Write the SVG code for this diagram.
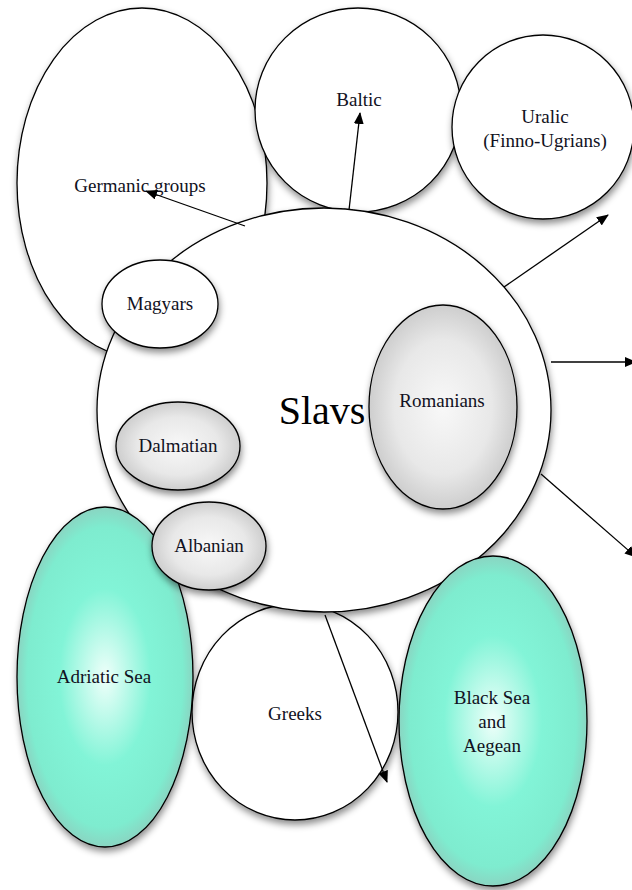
<svg xmlns="http://www.w3.org/2000/svg" width="632" height="890" viewBox="0 0 632 890">
<defs>
<filter id="sh" x="-20%" y="-20%" width="140%" height="150%">
<feDropShadow dx="1" dy="4" stdDeviation="3.5" flood-color="#000" flood-opacity="0.45"/>
</filter>
<radialGradient id="gray" cx="50%" cy="50%" r="55%">
<stop offset="0" stop-color="#f8f8f8"/>
<stop offset="0.6" stop-color="#e8e8e8"/>
<stop offset="1" stop-color="#c6c6c6"/>
</radialGradient>
<radialGradient id="teal" cx="50%" cy="50%" r="52%">
<stop offset="0" stop-color="#effffa"/>
<stop offset="0.5" stop-color="#82f4d7"/>
<stop offset="0.85" stop-color="#7eeccf"/>
<stop offset="1" stop-color="#8ecdbd"/>
</radialGradient>
<marker id="ah" viewBox="0 0 12 10" refX="11" refY="5" markerWidth="12" markerHeight="10" markerUnits="userSpaceOnUse" orient="auto">
<path d="M0,0 L12,5 L0,10 Z" fill="#000"/>
</marker>
<style>
.n{stroke:#000;stroke-width:1.3;filter:url(#sh)}
.w{fill:#fff}
.g{fill:url(#gray)}
.t{fill:url(#teal)}
text{font-family:"Liberation Serif","Times New Roman",serif;font-size:19px;fill:#111122;text-anchor:middle}
.big{font-size:40px;fill:#000}
.c line{stroke:#000;stroke-width:1.3;marker-end:url(#ah)}
</style>
</defs>
<rect width="632" height="890" fill="#fff"/>
<g id="germanic"><ellipse class="n w" cx="142" cy="183" rx="125" ry="175"/><text x="140" y="192">Germanic groups</text></g>
<g id="baltic"><ellipse class="n w" cx="358" cy="110" rx="103" ry="102"/><text x="359" y="106">Baltic</text></g>
<g id="uralic"><ellipse class="n w" cx="543" cy="127" rx="91" ry="92"/><text x="545" y="123">Uralic</text><text x="545" y="147">(Finno-Ugrians)</text></g>
<g id="greeks"><ellipse class="n w" cx="295" cy="712" rx="103" ry="108"/><text x="295" y="720">Greeks</text></g>
<g id="slavs"><ellipse class="n w" cx="324" cy="410" rx="227" ry="202"/><text class="big" x="322" y="424">Slavs</text></g>
<g id="magyars"><ellipse class="n w" cx="160" cy="304" rx="58" ry="44"/><text x="160" y="310">Magyars</text></g>
<g id="dalmatian"><ellipse class="n g" cx="178" cy="446" rx="62" ry="44"/><text x="178" y="452">Dalmatian</text></g>
<g id="romanians"><ellipse class="n g" cx="443" cy="407" rx="74" ry="102"/><text x="442" y="407">Romanians</text></g>
<g id="adriatic"><ellipse class="n t" cx="105" cy="677" rx="88" ry="170"/><text x="104" y="683">Adriatic Sea</text></g>
<g id="albanian"><ellipse class="n g" cx="209" cy="546" rx="57" ry="44"/><text x="209" y="552">Albanian</text></g>
<g id="blacksea"><ellipse class="n t" cx="493" cy="721" rx="94" ry="165"/><text x="492" y="704">Black Sea</text><text x="492" y="728">and</text><text x="492" y="752">Aegean</text></g>
<g id="connectors" class="c">
<line x1="245" y1="226" x2="146" y2="191"/>
<line x1="349" y1="210" x2="360" y2="113"/>
<line x1="504" y1="287" x2="608" y2="215"/>
<line x1="551" y1="362" x2="636" y2="362"/>
<line x1="541" y1="474" x2="636" y2="557"/>
<line x1="325" y1="615" x2="387" y2="782"/>
</g>
</svg>
